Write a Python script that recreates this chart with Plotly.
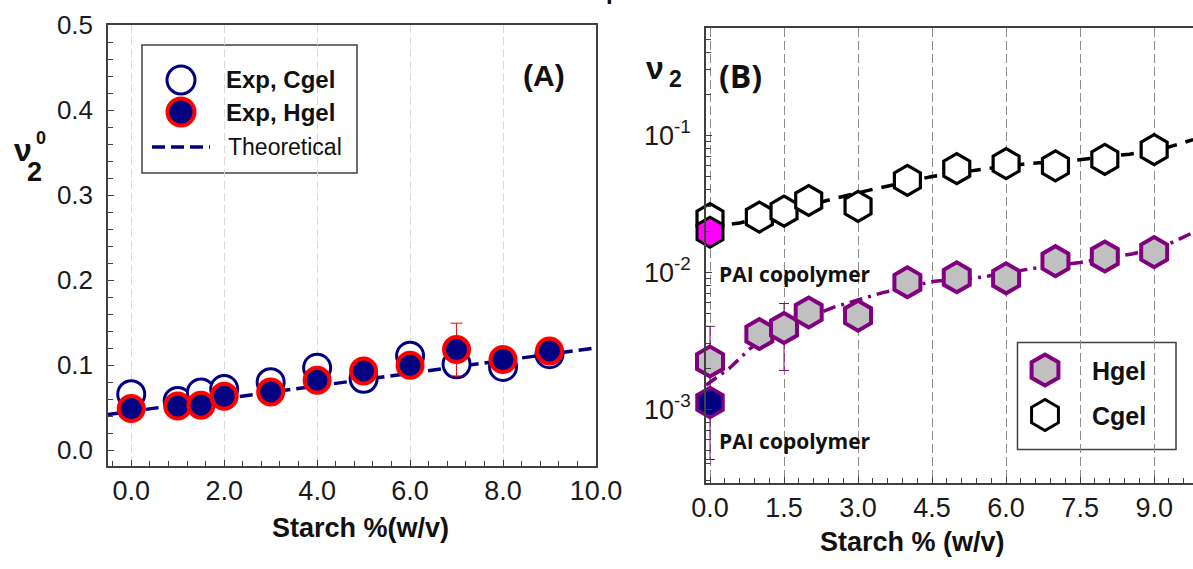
import plotly.graph_objects as go

W, H = 1193, 569

# ---------------- Panel A data ----------------
starch_a = [0, 1, 1.5, 2, 3, 4, 5, 6, 7, 8, 9]
cgel_a = [0.066, 0.058, 0.068, 0.072, 0.080, 0.097, 0.084, 0.111, 0.101, 0.098, 0.113]
hgel_a = [0.049, 0.052, 0.053, 0.0635, 0.0686, 0.0824, 0.0933, 0.100, 0.1184, 0.1067, 0.1168]
hgel_a_err = [0, 0, 0, 0, 0, 0, 0, 0, 0.031, 0, 0]
theory_x = [-0.5, 10.0]
theory_y = [0.042, 0.1205]

# ---------------- Panel B data ----------------
starch_b = [0, 1, 1.5, 2, 3, 4, 5, 6, 7, 8, 9]
cgel_b = [0.0246, 0.0253, 0.0279, 0.0334, 0.0303, 0.0469, 0.057, 0.0621, 0.0597, 0.0667, 0.0786]
hgel_b = [0.00223, 0.00354, 0.00392, 0.00509, 0.00482, 0.00845, 0.00919, 0.00903, 0.01205, 0.01303, 0.01403]
hgel_b_err = [0.0018, 0, 0.002, 0, 0, 0, 0, 0, 0, 0, 0]
pai_x = [0]
pai_cgel = [0.0196]
pai_hgel = [0.00112]
cgel_fit_x = [0.0, 0.6, 1.25, 2.5, 3.35, 4.5, 5.6, 6.45, 7.45, 8.5, 9.2, 9.79]
cgel_fit_y = [0.0215, 0.0229, 0.026, 0.0344, 0.0407, 0.050, 0.057, 0.0621, 0.0660, 0.0728, 0.080, 0.093]
hgel_fit_x = [-0.08, 0.4, 0.8, 1.25, 2.5, 3.5, 4.55, 5.5, 6.5, 7.5, 8.55, 9.2, 9.79]
hgel_fit_y = [0.0015, 0.0020, 0.00275, 0.0036, 0.00555, 0.0071, 0.0086, 0.0092, 0.0106, 0.0118, 0.0136, 0.0155, 0.0195]

tick_b_vals = [0.001, 0.01, 0.1]
tick_b_text = ["10<sup>-3</sup>", "10<sup>-2</sup>", "10<sup>-1</sup>"]
minor_b_vals = [m * 10 ** e for e in (-4, -3, -2, -1) for m in range(2, 10)]

NAVY = "#000080"
RED = "#ff0000"
PURPLE = "#800080"
GRAY = "#c0c0c0"
MAGENTA = "#ff00ff"
AXC = "#404040"
ARIAL = "Liberation Sans, Arial, sans-serif"
CALI = "Open Sans, sans-serif"


def PX(x):
    return x / W


def PY(y):
    return 1 - y / H


fig = go.Figure()

# ---- Panel A ----
fig.add_trace(go.Scatter(x=theory_x, y=theory_y, mode="lines", xaxis="x", yaxis="y",
                         line=dict(color=NAVY, width=3.5, dash="13px,6px")))
fig.add_trace(go.Scatter(x=starch_a, y=cgel_a, mode="markers", xaxis="x", yaxis="y",
                         marker=dict(symbol="circle", size=27, color="white",
                                     line=dict(color=NAVY, width=3))))
fig.add_trace(go.Scatter(x=starch_a, y=hgel_a, mode="markers", xaxis="x", yaxis="y",
                         error_y=dict(type="data", array=hgel_a_err, color=RED, thickness=1, width=6),
                         marker=dict(symbol="circle", size=25, color=NAVY,
                                     line=dict(color=RED, width=4))))

# ---- Panel B ----
fig.add_trace(go.Scatter(x=cgel_fit_x, y=cgel_fit_y, mode="lines", xaxis="x2", yaxis="y2",
                         line=dict(color="black", width=3.5, dash="13px,9px")))
fig.add_trace(go.Scatter(x=hgel_fit_x, y=hgel_fit_y, mode="lines", xaxis="x2", yaxis="y2",
                         line=dict(color=PURPLE, width=3.5, dash="13px,6px,3px,6px")))
fig.add_trace(go.Scatter(x=starch_b, y=cgel_b, mode="markers", xaxis="x2", yaxis="y2", cliponaxis=False,
                         marker=dict(symbol="hexagon", size=30, color="white",
                                     line=dict(color="black", width=3.2))))
fig.add_trace(go.Scatter(x=starch_b, y=hgel_b, mode="markers", xaxis="x2", yaxis="y2", cliponaxis=False,
                         error_y=dict(type="data", array=hgel_b_err, color=PURPLE, thickness=1, width=5),
                         marker=dict(symbol="hexagon", size=30, color=GRAY,
                                     line=dict(color=PURPLE, width=4))))
fig.add_trace(go.Scatter(x=pai_x, y=pai_cgel, mode="markers", xaxis="x2", yaxis="y2", cliponaxis=False,
                         marker=dict(symbol="hexagon", size=30, color=MAGENTA,
                                     line=dict(color="black", width=3))))
fig.add_trace(go.Scatter(x=pai_x, y=pai_hgel, mode="markers", xaxis="x2", yaxis="y2", cliponaxis=False,
                         marker=dict(symbol="hexagon", size=30, color=NAVY,
                                     line=dict(color=PURPLE, width=3.5))))

# ---- Legend symbols (overlay pixel axes) ----
fig.add_trace(go.Scatter(x=[181], y=[80], mode="markers", xaxis="x3", yaxis="y3",
                         marker=dict(symbol="circle", size=28, color="white",
                                     line=dict(color=NAVY, width=3))))
fig.add_trace(go.Scatter(x=[181], y=[112], mode="markers", xaxis="x3", yaxis="y3",
                         marker=dict(symbol="circle", size=27, color=NAVY,
                                     line=dict(color=RED, width=4))))
fig.add_trace(go.Scatter(x=[152, 210], y=[147, 147], mode="lines", xaxis="x3", yaxis="y3",
                         line=dict(color=NAVY, width=3.5, dash="13px,6px")))
fig.add_trace(go.Scatter(x=[1045], y=[370], mode="markers", xaxis="x3", yaxis="y3",
                         marker=dict(symbol="hexagon", size=31, color=GRAY,
                                     line=dict(color=PURPLE, width=4))))
fig.add_trace(go.Scatter(x=[1045], y=[415], mode="markers", xaxis="x3", yaxis="y3",
                         marker=dict(symbol="hexagon", size=31, color="white",
                                     line=dict(color="black", width=3))))

common = dict(showline=True, linecolor=AXC, linewidth=1.5, ticks="inside", tickcolor=AXC,
              tickwidth=1, ticklen=6, zeroline=False, automargin=False)

fig.update_layout(
    width=W, height=H, autosize=False,
    margin=dict(l=0, r=0, t=0, b=0, pad=0),
    paper_bgcolor="white", plot_bgcolor="rgba(0,0,0,0)",
    showlegend=False,
    xaxis=dict(domain=[PX(108), PX(596)], range=[-0.5, 10.0005], anchor="y",
               tickmode="linear", tick0=0, dtick=2, tickformat=".1f",
               tickfont=dict(family=ARIAL, size=27, color="#1a1a1a"),
               minor=dict(tick0=0, dtick=0.4, ticks="inside", ticklen=5, tickcolor=AXC),
               showgrid=True, gridcolor="#d9d9d9", griddash="8px,4px", gridwidth=1,
               mirror=True, ticklabelstandoff=0, **common),
    yaxis=dict(domain=[PY(466), PY(25)], range=[-0.0185, 0.5], anchor="x",
               tickmode="linear", tick0=0, dtick=0.1, tickformat=".1f",
               tickfont=dict(family=ARIAL, size=26, color="#1a1a1a"),
               minor=dict(tick0=0, dtick=0.02, ticks="inside", ticklen=5, tickcolor=AXC),
               showgrid=False, mirror=True, ticklabelstandoff=8, **common),
    xaxis2=dict(domain=[PX(706), 1.0], range=[-0.081, 9.787], anchor="y2",
                tickmode="linear", tick0=0, dtick=1.5, tickformat=".1f",
                tickfont=dict(family=ARIAL, size=27, color="#1a1a1a"),
                minor=dict(tick0=0, dtick=0.3, ticks="inside", ticklen=5, tickcolor=AXC),
                showgrid=True, gridcolor="#8c8c8c", griddash="9px,4px", gridwidth=1,
                mirror=True, ticklabelstandoff=0, **common),
    yaxis2=dict(domain=[PY(482.7), PY(28.4)], type="log", range=[-3.536, -0.22], anchor="x2",
                tickmode="array", tickvals=tick_b_vals, ticktext=tick_b_text,
                tickfont=dict(family=ARIAL, size=27, color="#1a1a1a"),
                minor=dict(tickmode="array", tickvals=minor_b_vals, ticks="inside", ticklen=5, tickcolor=AXC),
                showgrid=False, mirror=False, ticklabelstandoff=8, **common),
    xaxis3=dict(domain=[0, 1], range=[0, W], visible=False, anchor="y3", fixedrange=True, automargin=False),
    yaxis3=dict(domain=[0, 1], range=[H, 0], visible=False, anchor="x3", fixedrange=True, automargin=False),
)

# legend boxes
fig.add_shape(type="rect", xref="paper", yref="paper", x0=PX(142), x1=PX(357), y0=PY(173), y1=PY(45),
              line=dict(color=AXC, width=1.5), fillcolor="rgba(0,0,0,0)", layer="below")
fig.add_shape(type="rect", xref="paper", yref="paper", x0=PX(1017.5), x1=PX(1176), y0=PY(449.5), y1=PY(342.5),
              line=dict(color=AXC, width=1.5), fillcolor="rgba(0,0,0,0)", layer="below")


def txt(x, y, s, size, family=ARIAL, bold=True, xanchor="center", yanchor="middle", color="#111"):
    fig.add_annotation(x=PX(x), y=PY(y), xref="paper", yref="paper", text=s, showarrow=False,
                       xanchor=xanchor, yanchor=yanchor,
                       font=dict(family=family, size=size, color=color,
                                 weight="bold" if bold else "normal"))


# legend texts
txt(224, 80, "Exp, Cgel", 24, xanchor="left")
txt(224, 112, "Exp, Hgel", 24, xanchor="left")
txt(226, 147, "Theoretical", 23, bold=False, xanchor="left")
txt(1090, 371, "Hgel", 25, xanchor="left")
txt(1090, 416, "Cgel", 25, xanchor="left")

# panel labels
txt(544, 75, "(A)", 30)
txt(740, 75, "(B)", 32, family=CALI)

# PAI copolymer labels
txt(717, 274, "PAI copolymer", 21, family=CALI, xanchor="left")
txt(717, 441, "PAI copolymer", 21, family=CALI, xanchor="left")

# axis titles
txt(360, 528, "Starch %(w/v)", 27)
txt(912, 542, "Starch % (w/v)", 27)

# y titles: nu_2^0 and nu_2
txt(22.5, 150, "ν", 32)
txt(34, 172, "2", 27)
txt(41, 138, "0", 18)
txt(655, 68, "ν", 32)
txt(675, 79, "2", 23)

# cut-off fragment of the original heading at the top edge
fig.add_annotation(x=PX(613), y=PY(6), xref="paper", yref="paper", text="p", showarrow=False,
                   xanchor="center", yanchor="bottom", font=dict(family=ARIAL, size=24, color="#111", weight="bold"))

fig.write_html("out.html", config={"displayModeBar": False},
               post_script="document.body.style.margin='0';document.body.style.overflow='hidden';")
